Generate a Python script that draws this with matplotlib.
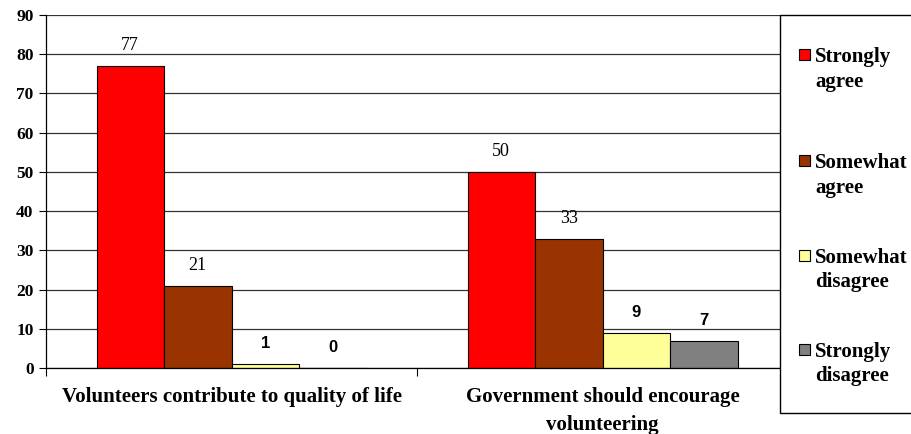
import matplotlib
matplotlib.use("Agg")
import matplotlib.pyplot as plt
from matplotlib.patches import Rectangle
import numpy as np

categories = ["Volunteers contribute to quality of life",
              "Government should encourage\nvolunteering"]
series_names = ["Strongly\nagree", "Somewhat\nagree", "Somewhat\ndisagree", "Strongly\ndisagree"]
strongly_agree = [77, 50]
somewhat_agree = [21, 33]
somewhat_disagree = [1, 9]
strongly_disagree = [0, 7]
yticks = [0, 10, 20, 30, 40, 50, 60, 70, 80, 90]

series = [strongly_agree, somewhat_agree, somewhat_disagree, strongly_disagree]
colors = ["#FF0000", "#993300", "#FFFF99", "#808080"]

W, H = 911, 434
fig = plt.figure(figsize=(W / 100, H / 100), dpi=100)
ax = fig.add_axes([46 / W, (H - 368) / H, (788 - 46) / W, (368 - 15) / H])

serif = "Liberation Serif"
x = np.arange(len(categories))
bw = 67.5 / 371
for j, (vals, c) in enumerate(zip(series, colors)):
    xs = x + (j - 1.5) * bw
    ax.bar(xs, vals, width=bw, color=c, edgecolor="black", linewidth=0.8, zorder=3)
    for xi, v in zip(xs, vals):
        if v >= 10:
            ax.annotate(str(v), (xi, v), xytext=(0, 14.5), textcoords="offset points",
                        ha="center", va="center", fontsize=13, family=serif, zorder=4)
        else:
            ax.annotate(str(v), (xi, v), xytext=(0, 14.5), textcoords="offset points",
                        ha="center", va="center", fontsize=12, fontweight="bold",
                        family=["Liberation Sans Narrow", "Liberation Sans"],
                        zorder=4)

ax.set_xlim(-0.5, 1.5)
ax.set_ylim(0, 90)
ax.set_yticks(yticks)
ax.set_yticklabels([str(t) for t in yticks], fontsize=12.5, fontweight="bold", family=serif)
ax.yaxis.grid(True, color="#333333", linewidth=0.9, zorder=0)
ax.set_axisbelow(True)

ax.set_xticks(x)
ax.set_xticklabels(categories, fontsize=15, fontweight="bold", family=serif, linespacing=1.5)
ax.tick_params(axis="x", which="major", length=0, pad=14)
ax.set_xticks([-0.5, 0.5, 1.5], minor=True)
ax.tick_params(axis="x", which="minor", length=6, width=0.8, direction="out")
ax.tick_params(axis="y", length=5, width=0.8, pad=4)
for lab in ax.get_xticklabels():
    lab.set_verticalalignment("top")

for s in ["top", "right"]:
    ax.spines[s].set_visible(False)
ax.spines["left"].set_linewidth(0.9)
ax.spines["bottom"].set_linewidth(0.9)
ax.spines["left"].set_zorder(5)
ax.spines["bottom"].set_zorder(5)

# legend box
box = Rectangle((780 / W, (H - 413) / H), (W - 780 + 5) / W, (413 - 15) / H,
                transform=fig.transFigure, facecolor="white", edgecolor="black",
                linewidth=1.0, zorder=10)
fig.add_artist(box)
ys = [54, 160, 255, 349]
for name, c, yy in zip(series_names, colors, ys):
    sq = Rectangle((799 / W, (H - yy - 5.5) / H), 10.5 / W, 10.5 / H,
                   transform=fig.transFigure, facecolor=c, edgecolor="black",
                   linewidth=0.8, zorder=11)
    fig.add_artist(sq)
    fig.text(815 / W, (H - yy + 7) / H, name, ha="left", va="top", fontsize=15,
             fontweight="bold", family=serif, linespacing=1.3, zorder=12)

fig.savefig("out.png", dpi=100)
